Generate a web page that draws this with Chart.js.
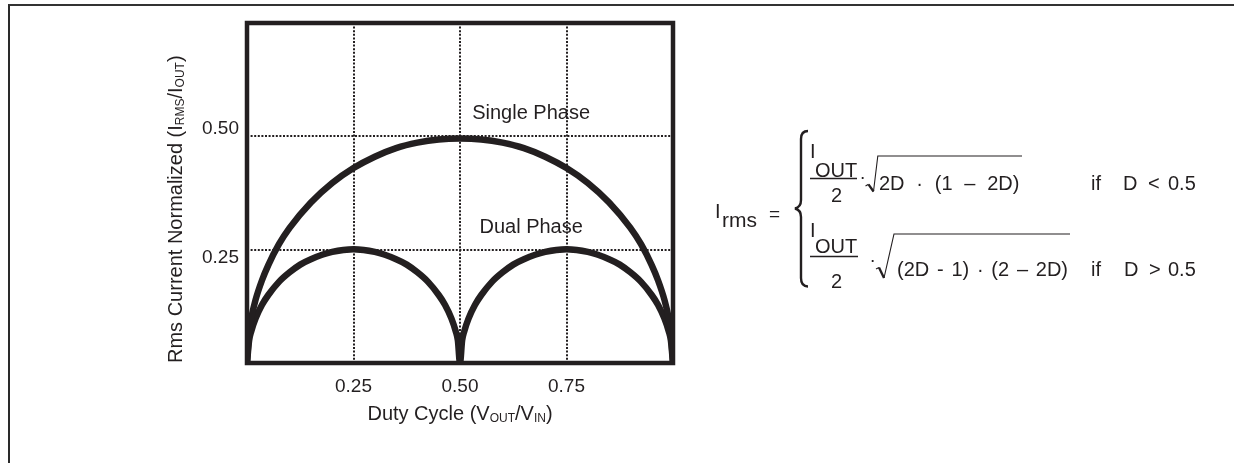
<!DOCTYPE html>
<html><head><meta charset="utf-8">
<script src="https://cdn.jsdelivr.net/npm/chart.js@4.4.1/dist/chart.umd.min.js"></script>
<style>
html,body{margin:0;padding:0;background:#fff;}
#wrap{position:relative;width:1234px;height:463px;overflow:hidden;}
#frame{position:absolute;left:7.5px;top:4px;width:1300px;height:600px;border-top:2.5px solid #333;border-left:2.5px solid #2a2a2a;}
#c{position:absolute;left:0;top:0;}
#formula{position:absolute;left:0;top:0;}
#formula text{font-family:"Liberation Sans",Arial,Helvetica,sans-serif;fill:#231f20;}
</style></head><body>
<div id="wrap">
<div id="frame"></div>
<canvas id="c" width="1234" height="463"></canvas>
<svg id="formula" width="1234" height="463" xmlns="http://www.w3.org/2000/svg">
<g fill="none" stroke="#231f20">
<path d="M808 131 C803 131 801 133.5 801 139 L801 200 C801 205 799 207.5 795 208.5 C799 209.5 801 212 801 217 L801 278 C801 283.5 803 286.5 808 286.5" stroke-width="2.4"/>
<line x1="810" y1="178.5" x2="857" y2="178.5" stroke-width="1.4"/>
<line x1="810" y1="256.5" x2="858" y2="256.5" stroke-width="1.4"/>
<path d="M865.5 186 L868.5 184.3" stroke-width="1.1"/>
<path d="M868.5 184.3 L873.5 191.5" stroke-width="2.3"/>
<path d="M873.5 191.5 L877.8 156 L1022 156" stroke-width="1.1"/>
<path d="M876 269 L879 267.5" stroke-width="1.1"/>
<path d="M879 267.5 L884 278" stroke-width="2.3"/>
<path d="M884 278 L894 234 L1070 234" stroke-width="1.1"/>
</g>
<text x="715" y="218" font-size="20">I</text>
<text x="722" y="226.5" font-size="21">rms</text>
<text x="769" y="220" font-size="19">=</text>
<text x="810" y="158" font-size="20">I</text>
<text x="815" y="176.5" font-size="20">OUT</text>
<text x="831" y="201.5" font-size="20">2</text>
<text x="859.6" y="182.5" font-size="19">·</text>
<text x="879" y="190" font-size="20" word-spacing="6.2">2D · (1 – 2D)</text>
<text x="1091" y="190" font-size="20">if</text>
<text x="1123" y="190" font-size="20">D</text>
<text x="1148" y="190" font-size="20">&lt;</text>
<text x="1168" y="190" font-size="20">0.5</text>
<text x="810" y="237" font-size="20">I</text>
<text x="815" y="253" font-size="20">OUT</text>
<text x="831" y="288" font-size="20">2</text>
<text x="869.4" y="266" font-size="19">·</text>
<text x="897" y="276" font-size="20" word-spacing="2.2">(2D - 1) · (2 – 2D)</text>
<text x="1091" y="276" font-size="20">if</text>
<text x="1124" y="276" font-size="20">D</text>
<text x="1149" y="276" font-size="20">&gt;</text>
<text x="1168" y="276" font-size="20">0.5</text>
</svg>
</div>
<script>
// ---- data ----
const singleX = [0, 0.005, 0.01, 0.02, 0.035, 0.05, 0.075, 0.1, 0.15, 0.2, 0.25, 0.3, 0.35, 0.4, 0.45, 0.5, 0.55, 0.6, 0.65, 0.7, 0.75, 0.8, 0.85, 0.9, 0.925, 0.95, 0.965, 0.98, 0.99, 0.995, 1];
const singleY = [0, 0.070, 0.099, 0.139, 0.182, 0.216, 0.262, 0.298, 0.354, 0.397, 0.430, 0.455, 0.474, 0.486, 0.493, 0.495, 0.493, 0.486, 0.474, 0.455, 0.430, 0.397, 0.354, 0.298, 0.262, 0.216, 0.182, 0.139, 0.099, 0.070, 0];
const dualX = [0, 0.005, 0.01, 0.02, 0.035, 0.05, 0.075, 0.1, 0.125, 0.15, 0.2, 0.25, 0.3, 0.35, 0.375, 0.4, 0.425, 0.45, 0.465, 0.48, 0.49, 0.495, 0.5, 0.505, 0.51, 0.52, 0.535, 0.55, 0.575, 0.6, 0.625, 0.65, 0.7, 0.75, 0.8, 0.85, 0.875, 0.9, 0.925, 0.95, 0.965, 0.98, 0.99, 0.995, 1];
const dualY = [0, 0.050, 0.070, 0.098, 0.128, 0.150, 0.179, 0.200, 0.217, 0.229, 0.245, 0.251, 0.245, 0.229, 0.217, 0.200, 0.179, 0.150, 0.128, 0.098, 0.070, 0.050, 0, 0.050, 0.070, 0.098, 0.128, 0.150, 0.179, 0.200, 0.217, 0.229, 0.245, 0.251, 0.245, 0.229, 0.217, 0.200, 0.179, 0.150, 0.128, 0.098, 0.070, 0.050, 0];
const xTickValues = [0, 0.25, 0.5, 0.75, 1];
const xTickLabels = ['', '0.25', '0.50', '0.75', ''];
const yTickValues = [0, 0.25, 0.5, 0.75];
const yTickLabels = ['', ['', '0.25'], ['0.50', ''], ''];
const seriesNames = ['Single Phase', 'Dual Phase'];
const seriesLabelX = [0.667, 0.667];
const seriesLabelY = [0.539, 0.286];
const xTitleParts = [['Duty Cycle (V', 0], ['OUT', 1], ['/V', 0], ['IN', 1], [')', 0]];
const yTitleParts = [['Rms Current Normalized (I', 0], ['RMS', 1], ['/I', 0], ['OUT', 1], [')', 0]];

// ---- styling ----
const FONT = '"Liberation Sans", Arial, Helvetica, sans-serif';
const INK = '#231f20';
const MAIN = 20, SUB = 12, SUBSHIFT = 2;

function drawRich(ctx, parts, x0, y0) {
  let x = x0;
  parts.forEach(p => {
    ctx.font = (p[1] ? SUB : MAIN) + 'px ' + FONT;
    ctx.fillText(p[0], x, y0 + (p[1] ? SUBSHIFT : 0));
    x += ctx.measureText(p[0]).width;
  });
  return x - x0;
}
function richWidth(ctx, parts) {
  let w = 0;
  parts.forEach(p => { ctx.font = (p[1] ? SUB : MAIN) + 'px ' + FONT; w += ctx.measureText(p[0]).width; });
  return w;
}

const decor = {
  id: 'decor',
  afterDatasetsDraw(chart) {
    const {ctx, chartArea: a, scales: {x, y}} = chart;
    ctx.save();
    ctx.strokeStyle = INK;
    ctx.lineWidth = 4.5;
    ctx.strokeRect(a.left, a.top, a.right - a.left, a.bottom - a.top);
    ctx.fillStyle = INK;
    ctx.textBaseline = 'alphabetic';
    ctx.textAlign = 'center';
    ctx.font = MAIN + 'px ' + FONT;
    seriesNames.forEach((n, i) => ctx.fillText(n, x.getPixelForValue(seriesLabelX[i]), y.getPixelForValue(seriesLabelY[i])));
    ctx.textAlign = 'left';
    const wx = richWidth(ctx, xTitleParts);
    drawRich(ctx, xTitleParts, (a.left + a.right) / 2 - wx / 2, a.bottom + 56.5);
    ctx.translate(a.left - 65, a.bottom);
    ctx.rotate(-Math.PI / 2);
    drawRich(ctx, yTitleParts, 0, 0);
    ctx.restore();
  }
};

const lineStyle = {borderColor: INK, borderWidth: 6.5, pointRadius: 0, cubicInterpolationMode: 'monotone', fill: false};

new Chart(document.getElementById('c'), {
  type: 'line',
  data: {
    datasets: [
      Object.assign({label: seriesNames[0], data: singleX.map((v, i) => ({x: v, y: singleY[i]}))}, lineStyle),
      Object.assign({label: seriesNames[1], data: dualX.map((v, i) => ({x: v, y: dualY[i]}))}, lineStyle)
    ]
  },
  options: {
    responsive: false,
    animation: false,
    devicePixelRatio: 1,
    layout: {padding: {left: 187, right: 561, top: 23, bottom: 40}},
    plugins: {legend: {display: false}, tooltip: {enabled: false}},
    scales: {
      x: {
        type: 'linear', min: 0, max: 1,
        afterFit(s) { s.height = 60; },
        afterBuildTicks(s) { s.ticks = xTickValues.map(v => ({value: v})); },
        ticks: {font: {family: FONT, size: 19}, color: INK, padding: 12, autoSkip: false, maxRotation: 0,
          callback: (v, i) => xTickLabels[i]},
        grid: {color: INK, lineWidth: 2, drawTicks: false},
        border: {display: false, dash: [2, 1.6]}
      },
      y: {
        type: 'linear', min: 0, max: 0.75,
        afterFit(s) { s.width = 60; },
        afterBuildTicks(s) { s.ticks = yTickValues.map(v => ({value: v})); },
        ticks: {font: {family: FONT, size: 19, lineHeight: 0.8}, color: INK, padding: 8, autoSkip: false,
          callback: (v, i) => yTickLabels[i]},
        grid: {color: INK, lineWidth: 2, drawTicks: false},
        border: {display: false, dash: [2, 1.6]}
      }
    }
  },
  plugins: [decor]
});
</script>
</body></html>
